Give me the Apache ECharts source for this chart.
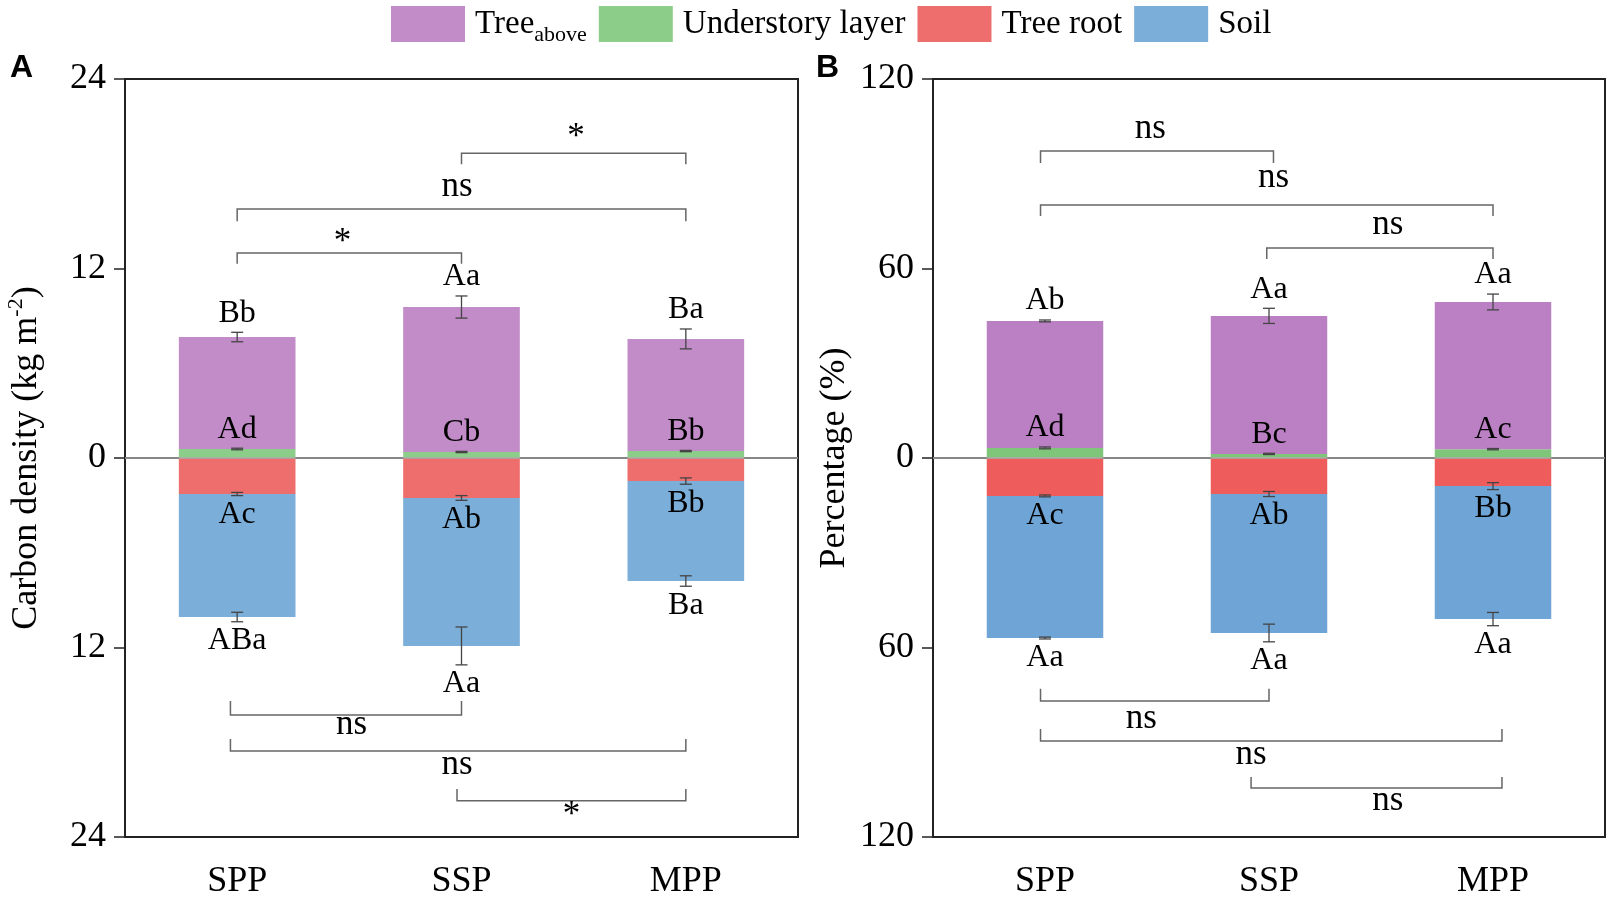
<!DOCTYPE html>
<html>
<head>
<meta charset="utf-8">
<script src="https://cdn.jsdelivr.net/npm/echarts/dist/echarts.min.js"></script>
<style>
  html, body { margin: 0; padding: 0; background: #fff; }
  #chart { width: 1611px; height: 900px; }
</style>
</head>
<body>
<div id="chart"></div>
<script>
// categories
const categories = ['SPP', 'SSP', 'MPP'];

// Panel A: carbon density (kg m-2)
const densTreeAbove = [7.09, 9.18, 7.10];
const densTreeAboveErr = [0.30, 0.70, 0.63];
const densUnderstory = [0.57, 0.38, 0.44];
const densUnderstoryErr = [0.05, 0.04, 0.04];
const densRoot = [2.28, 2.53, 1.46];
const densRootErr = [0.10, 0.15, 0.20];
const densSoil = [7.79, 9.37, 6.33];
const densSoilErr = [0.30, 1.20, 0.33];
const densLetTree = ['Bb', 'Aa', 'Ba'];
const densLetUnder = ['Ad', 'Cb', 'Bb'];
const densLetRoot = ['Ac', 'Ab', 'Bb'];
const densLetSoil = ['ABa', 'Aa', 'Ba'];

// Panel B: percentage (%)
const pctTreeAbove = [40.2, 43.7, 46.6];
const pctTreeAboveErr = [0.3, 2.4, 2.5];
const pctUnderstory = [3.2, 1.3, 2.8];
const pctUnderstoryErr = [0.3, 0.2, 0.2];
const pctRoot = [12.0, 11.4, 8.9];
const pctRootErr = [0.3, 0.8, 1.1];
const pctSoil = [45.0, 44.0, 42.1];
const pctSoilErr = [0.3, 2.8, 2.1];
const pctLetTree = ['Ab', 'Aa', 'Aa'];
const pctLetUnder = ['Ad', 'Bc', 'Ac'];
const pctLetRoot = ['Ac', 'Ab', 'Bb'];
const pctLetSoil = ['Aa', 'Aa', 'Aa'];

// axis ticks
const densTicks = { min: -24, max: 24, interval: 12 };
const pctTicks = { min: -120, max: 120, interval: 60 };

// significance brackets: [from, to, line value, tick end value, label, label x, label value]
const densBrackets = [
    [1, 2, 19.3, 18.6, '*', 1.51, 20.25],
    [0, 2, 15.77, 15.0, 'ns', 0.98, 17.2],
    [0, 1, 12.98, 12.3, '*', 0.47, 13.65],
    [-0.03, 1.0, -16.28, -15.39, 'ns', 0.51, -16.9],
    [-0.03, 2.0, -18.56, -17.8, 'ns', 0.98, -19.4],
    [0.98, 2.0, -21.7, -20.96, '*', 1.49, -22.65]
];
const pctBrackets = [
    [-0.02, 1.02, 97.2, 93.4, 'ns', 0.47, 104.1],
    [-0.02, 2.0, 80.1, 76.6, 'ns', 1.02, 88.6],
    [0.99, 2.0, 66.5, 63.0, 'ns', 1.53, 73.7],
    [-0.02, 1.0, -76.9, -73.1, 'ns', 0.43, -82.7],
    [-0.02, 2.04, -89.6, -85.8, 'ns', 0.92, -94.1],
    [0.92, 2.04, -104.5, -101.0, 'ns', 1.53, -108.7]
];

const SERIF = 'Liberation Serif';

function catX(api, f, v) {
    const a = api.coord([0, v]);
    const b = api.coord([1, v]);
    return a[0] + f * (b[0] - a[0]);
}

function panel(g, d, colors, brackets) {
    // stacked ends for error bars and letters
    const errData = [];
    const letData = [];
    const letText = [];
    for (let i = 0; i < categories.length; i++) {
        const uEnd = d.under[i];
        const tEnd = d.under[i] + d.tree[i];
        const rEnd = -d.root[i];
        const sEnd = -(d.root[i] + d.soil[i]);
        errData.push([i, uEnd, d.underErr[i]], [i, tEnd, d.treeErr[i]],
                     [i, rEnd, d.rootErr[i]], [i, sEnd, d.soilErr[i]]);
        letData.push([i, uEnd + d.underErr[i], 1], [i, tEnd + d.treeErr[i], 1],
                     [i, rEnd - d.rootErr[i], -1], [i, sEnd - d.soilErr[i], -1]);
        letText.push(d.letUnder[i], d.letTree[i], d.letRoot[i], d.letSoil[i]);
    }
    const bar = (name, data, color) => ({
        name, type: 'bar', stack: 'p' + g, xAxisIndex: g, yAxisIndex: g,
        data, barWidth: '52%', itemStyle: { color }, z: 2
    });
    return [
        bar('Understory layer', d.under, colors[1]),
        bar('Treeabove', d.tree, colors[0]),
        bar('Tree root', d.root.map(v => -v), colors[2]),
        bar('Soil', d.soil.map(v => -v), colors[3]),
        {
            type: 'custom', xAxisIndex: g, yAxisIndex: g, z: 5, silent: true,
            data: errData,
            markLine: {
                silent: true, symbol: ['none', 'none'], label: { show: false },
                lineStyle: { color: '#aaa', width: 1.5, type: 'solid' },
                data: [{ yAxis: 0 }]
            },
            renderItem: function(params, api) {
                const x = api.value(0), y = api.value(1), e = api.value(2);
                const hi = api.coord([x, y + e]);
                const lo = api.coord([x, y - e]);
                const st = { stroke: '#444', lineWidth: 1.3 };
                return { type: 'group', children: [
                    { type: 'line', shape: { x1: hi[0], y1: hi[1], x2: lo[0], y2: lo[1] }, style: st },
                    { type: 'line', shape: { x1: hi[0] - 6, y1: hi[1], x2: hi[0] + 6, y2: hi[1] }, style: st },
                    { type: 'line', shape: { x1: lo[0] - 6, y1: lo[1], x2: lo[0] + 6, y2: lo[1] }, style: st }
                ] };
            }
        },
        {
            type: 'custom', xAxisIndex: g, yAxisIndex: g, z: 6, silent: true,
            data: letData,
            renderItem: function(params, api) {
                const p = api.coord([api.value(0), api.value(1)]);
                return {
                    type: 'text', x: p[0], y: p[1] - api.value(2) * 19,
                    style: { text: letText[params.dataIndex], fontSize: 32, fontFamily: SERIF,
                             fill: '#000', align: 'center', verticalAlign: 'middle' }
                };
            }
        },
        {
            type: 'custom', xAxisIndex: g, yAxisIndex: g, z: 6, silent: true,
            data: brackets.map(b => [0, b[2]]),
            renderItem: function(params, api) {
                const b = brackets[params.dataIndex];
                const x1 = catX(api, b[0], b[2]);
                const x2 = catX(api, b[1], b[2]);
                const yl = api.coord([0, b[2]])[1];
                const yt = api.coord([0, b[3]])[1];
                const tx = catX(api, b[5], b[6]);
                const ty = api.coord([0, b[6]])[1];
                return { type: 'group', children: [
                    { type: 'polyline', shape: { points: [[x1, yt], [x1, yl], [x2, yl], [x2, yt]] },
                      style: { stroke: '#666', lineWidth: 1.5, fill: null } },
                    { type: 'text', x: tx, y: ty,
                      style: { text: b[4], fontSize: 35, fontFamily: SERIF, fill: '#000',
                               align: 'center', verticalAlign: 'middle' } }
                ] };
            }
        }
    ];
}

function xAxis(g) {
    return {
        type: 'category', gridIndex: g, data: categories,
        axisLine: { lineStyle: { color: '#222', width: 2 } },
        axisTick: { alignWithLabel: true, length: 12, lineStyle: { color: '#222', width: 1.5 } },
        axisLabel: { fontSize: 36, fontFamily: SERIF, color: '#000', margin: 27 }
    };
}

function yAxis(g, ticks, name) {
    return {
        type: 'value', gridIndex: g, min: ticks.min, max: ticks.max, interval: ticks.interval,
        axisLine: { show: true, lineStyle: { color: '#222', width: 2 } },
        axisTick: { show: true, length: 11, lineStyle: { color: '#222', width: 1.5 } },
        axisLabel: { fontSize: 36, fontFamily: SERIF, color: '#000', margin: 19,
                     formatter: v => String(Math.abs(v)) },
        splitLine: { show: false },
        name: name, nameLocation: 'middle', nameGap: 76, nameRotate: 90,
        nameTextStyle: {
            color: '#000', fontSize: 36, fontFamily: SERIF,
            rich: {
                t: { fontSize: 36, fontFamily: SERIF, color: '#000', lineHeight: 44 },
                sup: { fontSize: 22, fontFamily: SERIF, color: '#000', lineHeight: 24, verticalAlign: 'top' }
            }
        }
    };
}

const chart = echarts.init(document.getElementById('chart'));
chart.setOption({
    animation: false,
    backgroundColor: '#fff',
    textStyle: { fontFamily: SERIF },
    legend: {
        top: 0, left: 391, padding: 0, itemGap: 12,
        itemWidth: 74, itemHeight: 36, icon: 'rect',
        data: ['Treeabove', 'Understory layer', 'Tree root', 'Soil'],
        formatter: name => name === 'Treeabove' ? '{m|Tree}{s|above}' : '{m|' + name + '}',
        textStyle: {
            color: '#000', fontSize: 33, fontFamily: SERIF, padding: [0, 0, 0, 5],
            rich: {
                m: { fontSize: 33, fontFamily: SERIF, color: '#000', lineHeight: 44 },
                s: { fontSize: 22, fontFamily: SERIF, color: '#000', lineHeight: 22,
                     padding: [24, 0, 0, 0], verticalAlign: 'bottom' }
            }
        }
    },
    graphic: [
        { type: 'text', left: 10, top: 52, style: { text: 'A', font: 'bold 32px "Liberation Sans", Arial, sans-serif', fill: '#000' } },
        { type: 'text', left: 816, top: 52, style: { text: 'B', font: 'bold 32px "Liberation Sans", Arial, sans-serif', fill: '#000' } }
    ],
    grid: [
        { left: 125, top: 79, width: 673, height: 758, show: true, borderColor: '#222', borderWidth: 2 },
        { left: 933, top: 79, width: 672, height: 758, show: true, borderColor: '#222', borderWidth: 2 }
    ],
    xAxis: [xAxis(0), xAxis(1)],
    yAxis: [
        yAxis(0, densTicks, '{t|Carbon density (kg m}{sup|-2}{t|)}'),
        yAxis(1, pctTicks, '{t|Percentage (%)}')
    ],
    series: [].concat(
        panel(0, {
            tree: densTreeAbove, treeErr: densTreeAboveErr,
            under: densUnderstory, underErr: densUnderstoryErr,
            root: densRoot, rootErr: densRootErr,
            soil: densSoil, soilErr: densSoilErr,
            letTree: densLetTree, letUnder: densLetUnder, letRoot: densLetRoot, letSoil: densLetSoil
        }, ['#c28cc8', '#8dcd8a', '#ee6d6d', '#7baed8'], densBrackets),
        panel(1, {
            tree: pctTreeAbove, treeErr: pctTreeAboveErr,
            under: pctUnderstory, underErr: pctUnderstoryErr,
            root: pctRoot, rootErr: pctRootErr,
            soil: pctSoil, soilErr: pctSoilErr,
            letTree: pctLetTree, letUnder: pctLetUnder, letRoot: pctLetRoot, letSoil: pctLetSoil
        }, ['#bb80c4', '#7fc67a', '#ef5c5c', '#6ea5d6'], pctBrackets)
    )
});
</script>
</body>
</html>
